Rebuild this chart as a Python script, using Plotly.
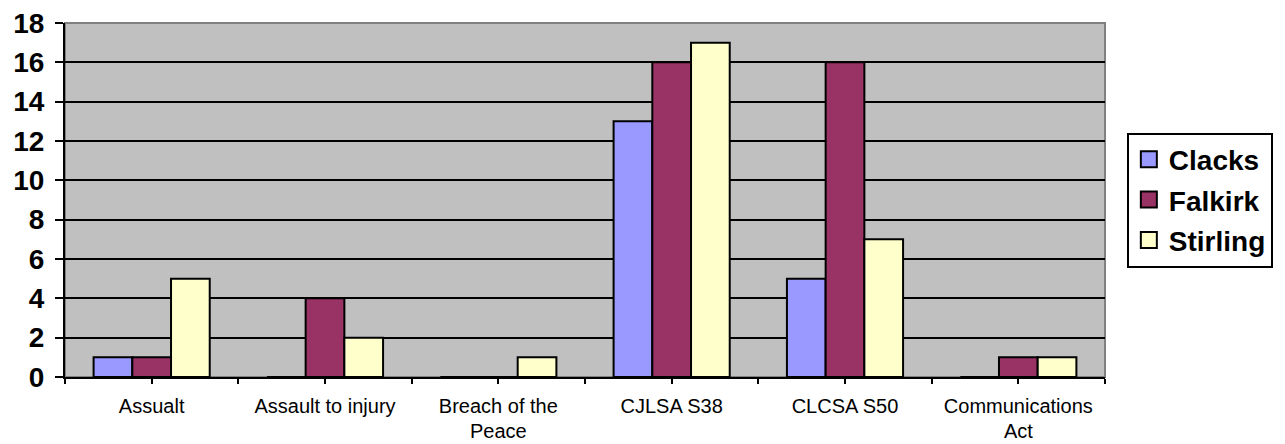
import plotly.graph_objects as go

categories = ["Assualt", "Assault to injury", "Breach of the<br>Peace", "CJLSA S38", "CLCSA S50", "Communications<br>Act"]
series_names = ["Clacks", "Falkirk", "Stirling"]
clacks = [1, 0, 0, 13, 5, 0]
falkirk = [1, 4, 0, 16, 16, 1]
stirling = [5, 2, 1, 17, 7, 1]
colors = ["#9999ff", "#993366", "#ffffcc"]
y_ticks = [0, 2, 4, 6, 8, 10, 12, 14, 16, 18]

FONT = "Arial, Liberation Sans, sans-serif"
xpos = list(range(len(categories)))

fig = go.Figure()
for name, vals, col in zip(series_names, [clacks, falkirk, stirling], colors):
    fig.add_trace(go.Bar(x=xpos, y=vals, name=name, marker=dict(color=col, line=dict(color="black", width=2)),
                         showlegend=False))
for name, col in zip(series_names, colors):
    fig.add_trace(go.Scatter(x=[None], y=[None], mode="markers", name=name, legendgroup=name,
                             marker=dict(symbol="square", size=16, color=col, line=dict(color="black", width=2))))

# first line of each label on the axis, second line (if any) as a tighter-spaced annotation
tickvals = []
ticktext = []
annotations = []
for i, c in enumerate(categories):
    parts = c.split("<br>")
    tickvals.append(i - 0.5); ticktext.append("")
    tickvals.append(i); ticktext.append(parts[0])
    if len(parts) > 1:
        annotations.append(dict(x=i, xref="x", y=0, yref="paper", yanchor="bottom", yshift=-66,
                                text=parts[1], showarrow=False, borderpad=0,
                                font=dict(family=FONT, size=20, color="black")))
tickvals.append(len(categories) - 0.5); ticktext.append("")

# the page body adds an 8px margin, so the figure is 8px smaller than the window
fig.update_layout(
    width=1277, height=436,
    margin=dict(l=57, r=180, t=15, b=67, autoexpand=False),
    paper_bgcolor="white", plot_bgcolor="#c0c0c0",
    barmode="group", bargap=0.33, bargroupgap=0,
    font=dict(family=FONT, color="black"),
    legend=dict(x=1.021, xanchor="left", y=0.5, yanchor="middle",
                bgcolor="white", bordercolor="black", borderwidth=2,
                font=dict(family=FONT, size=28, color="black", weight="bold"),
                traceorder="grouped", tracegroupgap=1, itemwidth=30),
    xaxis=dict(range=[-0.5, len(categories) - 0.5], tickmode="array", tickvals=tickvals, ticktext=ticktext,
               showgrid=False, zeroline=False, showline=True, linecolor="black", linewidth=2,
               ticks="outside", ticklen=5, tickwidth=2, tickcolor="black", automargin=False,
               ticklabeloverflow="allow",
               tickfont=dict(family=FONT, size=20, color="black"), ticklabelstandoff=5),
    yaxis=dict(range=[0, 18], tickmode="array", tickvals=y_ticks,
               showgrid=True, gridcolor="black", gridwidth=2, zeroline=False,
               showline=True, linecolor="black", linewidth=2, automargin=False,
               ticks="outside", ticklen=8, tickwidth=2, tickcolor="black",
               ticklabeloverflow="allow",
               tickfont=dict(family=FONT, size=28, color="black", weight="bold"),
               ticklabelstandoff=5),
    annotations=annotations,
    shapes=[dict(type="rect", xref="paper", yref="paper", x0=0, x1=1, y0=0, y1=1,
                 line=dict(color="#808080", width=2), fillcolor="rgba(0,0,0,0)", layer="below")],
)

fig.write_html("out.html")
